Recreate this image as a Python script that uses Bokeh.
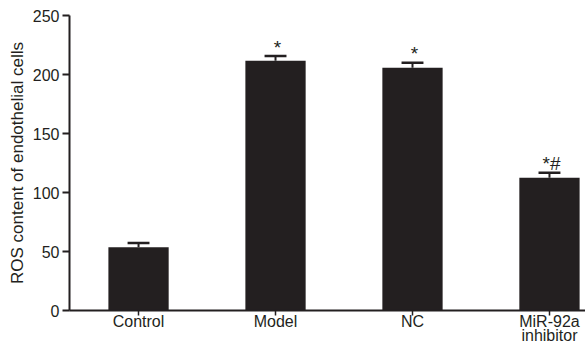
from bokeh.plotting import figure
from bokeh.models import FixedTicker, ColumnDataSource
from bokeh.core.properties import value
from bokeh.embed import file_html
from bokeh.resources import INLINE

categories = ["Control", "Model", "NC", "MiR-92a\ninhibitor"]
means = [53.5, 211.7, 205.8, 112.6]
errors = [3.7, 3.9, 4.2, 4.2]
marks = ["", "*", "*", "*#"]
y_ticks = [0, 50, 100, 150, 200, 250]

FONT = "Liberation Sans"
INK = "#231f20"

xs = list(range(len(categories)))
tops = [m + e for m, e in zip(means, errors)]
cap = 0.08

src = ColumnDataSource(dict(
    x=xs, mean=means, top=tops,
    x0=[x - cap for x in xs], x1=[x + cap for x in xs],
    mark=marks,
))

p = figure(width=585, height=347, output_backend="svg", toolbar_location=None,
           x_range=(-0.504, 3.263), y_range=(0, 250),
           min_border_left=69, min_border_right=0, min_border_top=15, min_border_bottom=36)
p.outline_line_color = None
p.xgrid.visible = False
p.ygrid.visible = False

p.vbar(x="x", top="mean", bottom=0, width=0.44, source=src, fill_color=INK, line_color=None)
p.segment(x0="x", y0="mean", x1="x", y1="top", source=src, line_color=INK, line_width=2)
p.segment(x0="x0", y0="top", x1="x1", y1="top", source=src, line_color=INK, line_width=2.5)
p.text(x="x", y="top", text="mark", source=src, text_align="center", text_baseline="alphabetic",
       y_offset=-9, x_offset=2, text_font=value(FONT), text_font_size="19px", text_color=INK)

xa = p.xaxis[0]
xa.ticker = FixedTicker(ticks=xs)
xa.major_label_overrides = {i: c for i, c in enumerate(categories)}
xa.minor_tick_line_color = None
xa.major_tick_in = 0
xa.major_tick_out = 5
xa.axis_line_width = 2
xa.axis_line_color = INK
xa.major_tick_line_color = INK
xa.major_tick_line_width = 1.5
xa.major_label_text_font = FONT
xa.major_label_text_font_size = "16px"
xa.major_label_text_color = INK
xa.major_label_standoff = -3
xa.major_label_text_line_height = 0.88

ya = p.yaxis[0]
ya.ticker = FixedTicker(ticks=y_ticks)
ya.minor_tick_line_color = None
ya.major_tick_in = 0
ya.major_tick_out = 7
ya.axis_line_width = 2
ya.axis_line_color = INK
ya.major_tick_line_color = INK
ya.major_tick_line_width = 2
ya.major_label_text_font = FONT
ya.major_label_text_font_size = "16px"
ya.major_label_text_color = INK
ya.major_label_standoff = 3
ya.axis_label = "ROS content of endothelial cells"
ya.axis_label_text_font = FONT
ya.axis_label_text_font_size = "17px"
ya.axis_label_text_font_style = "normal"
ya.axis_label_text_color = INK
ya.axis_label_standoff = 3

open("out.html", "w").write(file_html(p, INLINE))
